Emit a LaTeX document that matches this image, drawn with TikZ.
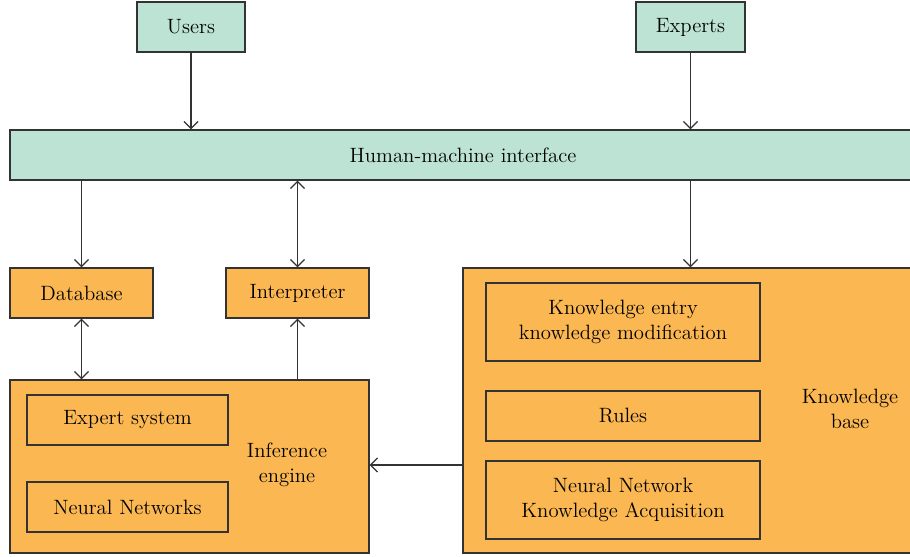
\documentclass[tikz,border=0pt]{standalone}
\usepackage{tikz}
\usetikzlibrary{arrows.meta}
\definecolor{mint}{RGB}{189,227,212}
\definecolor{amber}{RGB}{251,183,82}
\definecolor{edge}{RGB}{51,51,51}
\begin{document}
\begin{tikzpicture}[x=0.02cm,y=-0.02cm,
    box/.style={draw=edge,line width=0.7pt,inner sep=0pt,align=center,
      font=\fontsize{11.8}{14.2}\selectfont},
    actor/.style={box,fill=mint,minimum height=1cm},
    part/.style={box,fill=amber},
    label/.style={align=center,font=\fontsize{11.8}{14.2}\selectfont},
    >={Straight Barb[length=4pt,width=8pt]}]
  \useasboundingbox (0,0) rectangle (910,557);
  % top row
  \node[actor,minimum width=2.16cm] (users) at (191,27) {Users};
  \node[actor,minimum width=2.18cm] (experts) at (690.5,27) {Experts};
  \node[actor,minimum width=18.02cm] (hmi) at (460.5,155) {\hspace*{0.1cm}Human-machine interface};
  % left side
  \node[part,minimum width=2.86cm,minimum height=1cm] (database) at (81.5,293) {Database};
  \node[part,minimum width=2.86cm,minimum height=1cm] (interp) at (297.5,293) {Interpreter};
  \node[part,minimum width=7.18cm,minimum height=3.46cm] (infer) at (189.5,466.5) {};
  \node[part,minimum width=4.02cm,minimum height=1cm] (expert) at (127.5,420) {Expert system};
  \node[part,minimum width=4.02cm,minimum height=1cm] (neural) at (127.5,507) {Neural Networks};
  \node[label] (inferlabel) at (287,465) {Inference\\engine};
  % right side
  \node[part,minimum width=8.96cm,minimum height=5.7cm] (kb) at (687,410.5) {};
  \node[part,minimum width=5.48cm,minimum height=1.56cm] (entry) at (623,322)
    {Knowledge entry\\knowledge modification};
  \node[part,minimum width=5.48cm,minimum height=1cm] (rules) at (623,416) {Rules};
  \node[part,minimum width=5.48cm,minimum height=1.56cm] (acquire) at (623,500)
    {Neural Network\\Knowledge Acquisition};
  \node[label] (kblabel) at (850,409) {Knowledge\\base};
  % connectors
  \begin{scope}[draw=edge,line width=0.7pt]
    \draw[->] (users) -- (users |- hmi.north);
    \draw[->] (experts) -- (experts |- hmi.north);
    \draw[->] (hmi.south -| database) -- (database);
    \draw[<->] (hmi.south -| interp) -- (interp);
    \draw[->] (hmi.south -| experts) -- (kb.north -| experts);
    \draw[<->] (database) -- (database |- infer.north);
    \draw[->] (interp |- infer.north) -- (interp);
    \draw[->] (kb.west |- inferlabel) -- (infer.east |- inferlabel);
  \end{scope}
\end{tikzpicture}
\end{document}
